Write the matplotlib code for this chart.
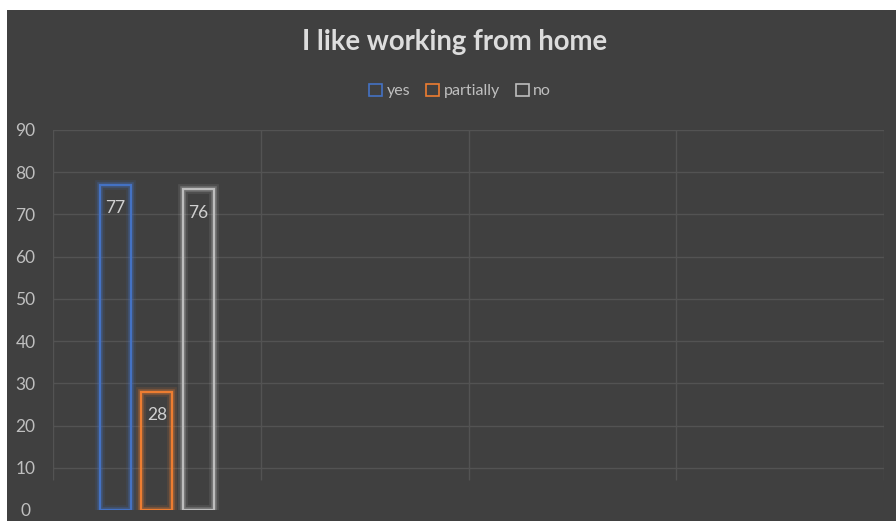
import matplotlib
matplotlib.use("Agg")
import matplotlib.pyplot as plt
import matplotlib.patches as mpatches
import matplotlib.patheffects as pe
import numpy as np

# data
categories = ["", "", "", ""]
series_names = ["yes", "partially", "no"]
series_values = [[77], [28], [76]]
colors = ["#4472C4", "#ED7D31", "#BDBDBD"]
y_ticks = [0, 10, 20, 30, 40, 50, 60, 70, 80, 90]

plt.rcParams['font.family'] = ['Lato', 'DejaVu Sans']

bg = "#404040"
grid_c = "#535353"
text_c = "#BFBFBF"

fig = plt.figure(figsize=(8.96, 5.24), dpi=100, facecolor="white")
# dark chart area (white margin at top and left like the screenshot)
fig.patches.append(mpatches.Rectangle((7 / 896, 3 / 524), 889 / 896, 511 / 524,
                                      transform=fig.transFigure, facecolor=bg,
                                      edgecolor="none", zorder=-5))

ax = fig.add_axes([53 / 896, 14 / 524, 831 / 896, 380 / 524])
ax.set_zorder(2)
ax.patch.set_alpha(0)

n_cat = len(categories)
ax.set_xlim(-0.5, n_cat - 0.5)
ax.set_ylim(0, 90)

# gridlines
for t in y_ticks[1:]:
    ax.axhline(t, color=grid_c, lw=1.0, zorder=1)
ax.vlines(np.arange(n_cat + 1) - 0.5, 7, 90, color=grid_c, lw=1.0, zorder=1)

width = 0.15
step = 0.2
for i, (name, vals, c) in enumerate(zip(series_names, series_values, colors)):
    xs = np.arange(len(vals)) + (i - 1) * step
    ax.bar(xs, vals, width=width, facecolor="none", edgecolor=c,
           linewidth=1.6, zorder=3,
           path_effects=[pe.Stroke(linewidth=7, foreground=c, alpha=0.12),
                         pe.Stroke(linewidth=4, foreground=c, alpha=0.3),
                         pe.Normal()])
    for x, v in zip(xs, vals):
        ax.annotate(str(v), (x, v), xytext=(0, -17), textcoords="offset points",
                    ha="center", va="center", color="#D0D0D0", fontsize=12.5,
                    zorder=4)

for s in ax.spines.values():
    s.set_visible(False)
ax.set_yticks(y_ticks)
ax.set_xticks([])
ax.tick_params(axis="y", length=0, colors=text_c, labelsize=12.5, pad=19.8)
for lbl in ax.get_yticklabels():
    lbl.set_horizontalalignment("center")

fig.text(455 / 896, 1 - 42 / 524, "I like working from home", ha="center",
         va="center", color="#DDDDDD", fontsize=19.8, fontweight="bold")

handles = [mpatches.Patch(facecolor="none", edgecolor=c, label=n, linewidth=1.2)
           for n, c in zip(series_names, colors)]
leg = fig.legend(handles=handles, loc="center", bbox_to_anchor=(460 / 896, 1 - 91 / 524),
                 ncol=3, frameon=False, handlelength=0.8, handleheight=0.8,
                 handletextpad=0.3, columnspacing=1.0, fontsize=11.5)
for t in leg.get_texts():
    t.set_color(text_c)

fig.savefig("out.png", dpi=100, facecolor="white")
